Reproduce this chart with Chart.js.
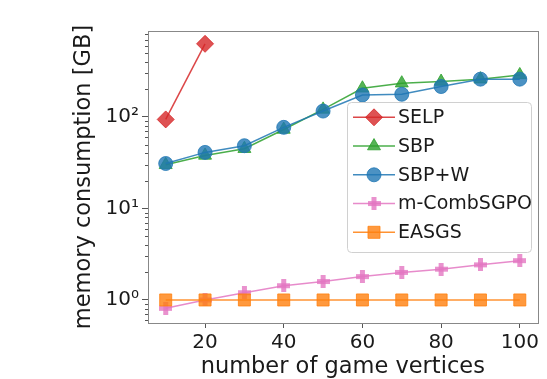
<!DOCTYPE html>
<html>
<head>
<meta charset="utf-8">
<script src="https://cdn.jsdelivr.net/npm/chart.js@4/dist/chart.umd.min.js"></script>
<style>
  body { margin: 0; background: #fff; }
  canvas { display: block; }
</style>
</head>
<body>
<canvas id="memChart" width="547" height="379"></canvas>
<script>
// data (log scale, GB)
const vertices = [10, 20, 30, 40, 50, 60, 70, 80, 90, 100];
const selp = [94, 630];
const sbp = [30, 38, 45, 73, 121, 206, 234, 244, 259, 288];
const sbpW = [31, 41, 48.5, 77, 116, 174, 177, 215, 259, 259];
const mComb = [0.81, 1.0, 1.2, 1.43, 1.59, 1.8, 2.0, 2.17, 2.42, 2.69];
const easgs = [1, 1, 1, 1, 1, 1, 1, 1, 1, 1];
const xTicks = [20, 40, 60, 80, 100];
const yTickLabels = {1: '10⁰', 10: '10¹', 100: '10²'};
const seriesNames = ['SELP', 'SBP', 'SBP+W', 'm-CombSGPO', 'EASGS'];

const FONT = 'DejaVu Sans';

function rgba(hex, a) {
    const n = parseInt(hex.slice(1), 16);
    return 'rgba(' + (n >> 16) + ',' + ((n >> 8) & 255) + ',' + (n & 255) + ',' + a + ')';
}

// filled "plus" marker like matplotlib's 'P'
function plusMarker(color, size) {
    const c = document.createElement('canvas');
    c.width = size; c.height = size;
    const g = c.getContext('2d');
    const t = Math.round(size * 0.38);
    const o = Math.round((size - t) / 2);
    g.fillStyle = color;
    g.fillRect(o, 0, t, size);
    g.fillRect(0, o, size, t);
    return c;
}

function series(label, data, hex, style, radius, order) {
    return {
        label: label,
        data: data.map((v, i) => ({x: vertices[i], y: v})),
        borderColor: rgba(hex, 0.85),
        backgroundColor: rgba(hex, 0.8),
        pointBackgroundColor: rgba(hex, 0.8),
        pointBorderColor: rgba(hex, 0.8),
        pointBorderWidth: 1,
        borderWidth: 1.5,
        pointStyle: style,
        pointRadius: radius,
        pointHoverRadius: radius,
        order: order
    };
}

const datasets = [
    series(seriesNames[0], selp, '#d62728', 'rectRot', 8.5, 5),
    series(seriesNames[1], sbp, '#2ca02c', 'triangle', 7.5, 4),
    series(seriesNames[2], sbpW, '#1f77b4', 'circle', 7, 3),
    series(seriesNames[3], mComb, '#e377c2', plusMarker(rgba('#e377c2', 0.8), 13), 7, 2),
    series(seriesNames[4], easgs, '#ff7f0e', 'rect', 8.5, 1)
];

const framePlugin = {
    id: 'frame',
    afterDraw(chart) {
        const {ctx, chartArea: a} = chart;
        const y = chart.scales.y;
        ctx.save();
        // minor ticks on the log axis
        ctx.strokeStyle = '#555';
        ctx.lineWidth = 1;
        y.ticks.forEach(t => {
            if (yTickLabels[t.value]) return;
            const py = Math.round(y.getPixelForValue(t.value)) + 0.5;
            ctx.beginPath();
            ctx.moveTo(a.left - 3, py);
            ctx.lineTo(a.left, py);
            ctx.stroke();
        });
        ctx.strokeStyle = '#888';
        ctx.strokeRect(Math.round(a.left) + 0.5, Math.round(a.top) + 0.5,
            Math.round(a.right - a.left), Math.round(a.bottom - a.top));
        ctx.restore();
    }
};

const legendPlugin = {
    id: 'insideLegend',
    afterDraw(chart) {
        const ctx = chart.ctx;
        const box = {x: 347, y: 102, w: 184, h: 150};
        ctx.save();
        ctx.beginPath();
        ctx.roundRect(box.x + 0.5, box.y + 0.5, box.w, box.h, 4);
        ctx.fillStyle = 'rgba(255,255,255,0.8)';
        ctx.fill();
        ctx.strokeStyle = '#d0d0d0';
        ctx.lineWidth = 1;
        ctx.stroke();
        chart.data.datasets.forEach((ds, i) => {
            const ry = 117.3 + i * 28.75;
            ctx.strokeStyle = ds.borderColor;
            ctx.lineWidth = ds.borderWidth;
            ctx.beginPath();
            ctx.moveTo(353, ry);
            ctx.lineTo(395, ry);
            ctx.stroke();
            ctx.fillStyle = ds.pointBackgroundColor;
            ctx.strokeStyle = ds.pointBorderColor;
            ctx.lineWidth = ds.pointBorderWidth;
            Chart.helpers.drawPoint(ctx, {
                pointStyle: ds.pointStyle, radius: ds.pointRadius,
                rotation: 0, borderWidth: ds.pointBorderWidth
            }, 374, ry);
            ctx.fillStyle = '#1a1a1a';
            ctx.font = '19px "' + FONT + '"';
            ctx.textAlign = 'left';
            ctx.textBaseline = 'middle';
            ctx.fillText(ds.label, 398, ry + 1);
        });
        ctx.restore();
    }
};

new Chart(document.getElementById('memChart'), {
    type: 'line',
    data: {datasets: datasets},
    plugins: [framePlugin, legendPlugin],
    options: {
        responsive: false,
        animation: false,
        layout: {padding: {left: 70.5, top: 31, right: 7, bottom: 0}},
        plugins: {legend: {display: false}, tooltip: {enabled: false}},
        scales: {
            x: {
                type: 'linear',
                min: 5.5,
                max: 104.5,
                afterBuildTicks: s => { s.ticks = xTicks.map(v => ({value: v})); },
                afterFit: s => { s.height = 56; },
                border: {display: false},
                grid: {drawOnChartArea: false, tickLength: 5, tickColor: '#555'},
                ticks: {
                    autoSkip: false, maxRotation: 0, padding: 3, color: '#1a1a1a',
                    font: {family: FONT, size: 20}
                },
                title: {
                    display: true, text: 'number of game vertices', color: '#1a1a1a',
                    font: {family: FONT, size: 22.5}, padding: {top: 0, bottom: -2}
                }
            },
            y: {
                type: 'logarithmic',
                min: 0.56,
                max: 870,
                afterBuildTicks: s => {
                    const ticks = [];
                    [0.1, 1, 10, 100].forEach(d => {
                        for (let k = 1; k <= 9; k++) {
                            const v = +(k * d).toPrecision(6);
                            if (v >= s.min && v <= s.max) ticks.push({value: v});
                        }
                    });
                    s.ticks = ticks;
                },
                afterFit: s => { s.width = 77.5; },
                border: {display: false},
                grid: {
                    drawOnChartArea: false, tickLength: 6,
                    tickColor: c => (c.tick && yTickLabels[c.tick.value]) ? '#555' : 'rgba(0,0,0,0)'
                },
                ticks: {
                    autoSkip: false, padding: 3, color: '#1a1a1a',
                    font: {family: FONT, size: 20},
                    callback: v => yTickLabels[v] || ''
                },
                title: {
                    display: true, text: 'memory consumption [GB]', color: '#1a1a1a',
                    font: {family: FONT, size: 22.5}, padding: {top: 0, bottom: 0}
                }
            }
        }
    }
});
</script>
</body>
</html>
